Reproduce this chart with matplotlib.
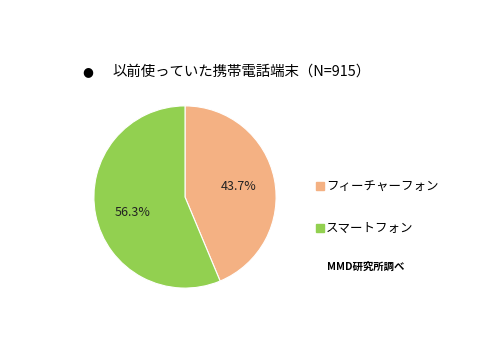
import matplotlib
matplotlib.use("Agg")
import matplotlib.pyplot as plt
from matplotlib.lines import Line2D

plt.rcParams["font.family"] = ["Noto Sans CJK JP", "DejaVu Sans"]

labels = ["フィーチャーフォン", "スマートフォン"]
values = [43.7, 56.3]
colors = ["#F4B183", "#92D050"]
title = "以前使っていた携帯電話端末（N=915）"
source = "MMD研究所調べ"

fig = plt.figure(figsize=(4.8, 3.6), dpi=100)

# pie: centre ~(185,197) px, radius ~92 px
ax = fig.add_axes([93 / 480, (360 - 197 - 92) / 360, 184 / 480, 184 / 360])
wedges, texts, autotexts = ax.pie(
    values,
    colors=colors,
    startangle=90,
    counterclock=False,
    autopct="%.1f%%",
    pctdistance=0.6,
    wedgeprops={"linewidth": 0.8, "edgecolor": "white"},
    textprops={"fontsize": 9, "color": "#222222"},
)
# the smartphone label sits a bit lower in the original
autotexts[1].set_position((-0.58, -0.17))
ax.set_xlim(-1.01, 1.01)
ax.set_ylim(-1.01, 1.01)
ax.set_aspect("equal")

fig.text(88 / 480, 1 - 72 / 360, "●", fontsize=9, va="center", ha="center",
         family=["DejaVu Sans"])
fig.text(112 / 480, 1 - 72 / 360, title, fontsize=10.4, va="center", ha="left")

handles = [Line2D([], [], marker="s", linestyle="", markersize=6,
                  markerfacecolor=c, markeredgecolor=c) for c in colors]
fig.legend(handles, labels, loc="upper left", bbox_to_anchor=(302 / 480, 1 - 169 / 360),
           frameon=False, fontsize=9, handletextpad=0.0, labelspacing=2.3,
           handlelength=1.0)

fig.text(327 / 480, 1 - 267 / 360, source, fontsize=7.5, fontweight="bold",
         va="center", ha="left")

fig.savefig("out.png", dpi=100)
